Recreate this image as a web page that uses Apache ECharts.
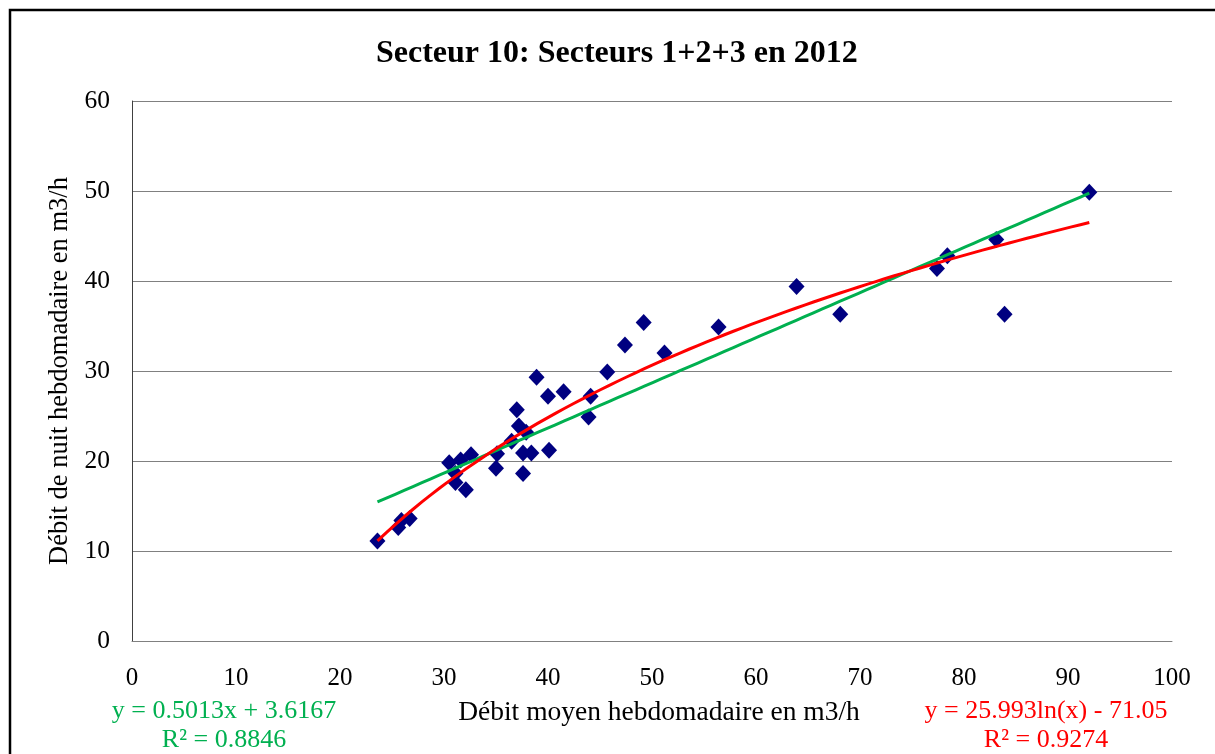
<!DOCTYPE html>
<html>
<head>
<meta charset="utf-8">
<script src="https://cdn.jsdelivr.net/npm/echarts@6/dist/echarts.min.js"></script>
<style>
html,body{margin:0;padding:0;background:#fff;}
#c{width:1215px;height:754px;}
</style>
</head>
<body>
<div id="c"></div>
<script>
// ---- data ----
var titleText = 'Secteur 10: Secteurs 1+2+3 en 2012';
var xAxisName = 'Débit moyen hebdomadaire en m3/h';
var yAxisName = 'Débit de nuit hebdomadaire en m3/h';
var debitMoyen = [23.6, 25.6, 25.9, 26.7, 30.5, 31.1, 31.1, 31.6, 32.6, 32.1, 35.0, 35.1, 36.5, 37.0, 37.2, 37.9, 37.6, 38.4, 37.6, 38.9, 40.0, 40.1, 41.5, 43.9, 44.1, 45.7, 47.4, 49.2, 51.2, 56.4, 63.9, 68.1, 77.4, 78.4, 83.1, 83.9, 92.05];
var debitNuit  = [11.1, 12.6, 13.4, 13.6, 19.8, 18.6, 17.6, 20.1, 20.7, 16.8, 19.2, 20.8, 22.2, 25.7, 23.9, 23.2, 20.9, 20.9, 18.6, 29.3, 27.2, 21.2, 27.7, 24.9, 27.2, 29.9, 32.9, 35.4, 32.0, 34.9, 39.4, 36.3, 41.4, 42.8, 44.6, 36.3, 49.85];
// trendline coefficients as displayed on the chart
var linSlope = 0.5013, linIntercept = 3.6167, linR2 = '0.8846';
var logA = 25.993, logB = -71.05, logR2 = '0.9274';
var linLabel = 'y = 0.5013x + 3.6167';
var logLabel = 'y = 25.993ln(x) - 71.05';

var scatterData = debitMoyen.map(function(x, i){ return [x, debitNuit[i]]; });
var xMinData = Math.min.apply(null, debitMoyen), xMaxData = Math.max.apply(null, debitMoyen);
var linData = [], logData = [];
var steps = 80;
for (var i = 0; i <= steps; i++) {
  var x = xMinData + (xMaxData - xMinData) * i / steps;
  linData.push([x, linSlope * x + linIntercept]);
  logData.push([x, logA * Math.log(x) + logB]);
}

var FONT = 'Liberation Serif';
var chart = echarts.init(document.getElementById('c'), null, {renderer: 'canvas'});
chart.setOption({
  animation: false,
  backgroundColor: '#fff',
  title: {
    text: titleText, left: 371, top: 33,
    textStyle: {fontFamily: FONT, fontWeight: 'bold', fontSize: 32, color: '#000'}
  },
  grid: {left: 132, top: 101, right: 43, bottom: 113, containLabel: false},
  xAxis: {
    type: 'value', min: 0, max: 100, interval: 10,
    name: xAxisName, nameLocation: 'middle', nameGap: 58,
    nameTextStyle: {fontFamily: FONT, fontSize: 27.5, color: '#000', padding: [0, 0, 0, 14]},
    axisLine: {show: true, lineStyle: {color: '#808080', width: 1}},
    axisTick: {show: false},
    splitLine: {show: false},
    axisLabel: {fontFamily: FONT, fontSize: 25, color: '#000', margin: 25}
  },
  yAxis: {
    type: 'value', min: 0, max: 60, interval: 10,
    name: yAxisName, nameLocation: 'middle', nameGap: 52, nameRotate: 90,
    nameTextStyle: {fontFamily: FONT, fontSize: 26.5, color: '#000'},
    axisLine: {show: true, lineStyle: {color: '#404040', width: 1}},
    axisTick: {show: false},
    splitLine: {show: true, lineStyle: {color: '#808080', width: 1}},
    axisLabel: {fontFamily: FONT, fontSize: 25.5, color: '#000', margin: 22}
  },
  series: [
    {
      type: 'scatter', data: scatterData, symbol: 'diamond', symbolSize: [16, 17],
      itemStyle: {color: '#000080', opacity: 1}, z: 2
    },
    {
      type: 'line', data: linData, showSymbol: false, smooth: false,
      lineStyle: {color: '#00B050', width: 3}, z: 3
    },
    {
      type: 'line', data: logData, showSymbol: false, smooth: false,
      lineStyle: {color: '#FF0000', width: 3}, z: 4
    }
  ],
  graphic: [
    {type: 'rect', shape: {x: 10, y: 10, width: 1400, height: 900}, style: {fill: 'none', stroke: '#000', lineWidth: 2.5}, silent: true},
    {type: 'text', x: 224, y: 711, style: {text: linLabel, font: '26px "Liberation Serif"', fill: '#00B050', align: 'center', verticalAlign: 'middle'}},
    {type: 'text', x: 224, y: 740, style: {text: 'R² = ' + linR2, font: '26px "Liberation Serif"', fill: '#00B050', align: 'center', verticalAlign: 'middle'}},
    {type: 'text', x: 1046, y: 711, style: {text: logLabel, font: '26px "Liberation Serif"', fill: '#FF0000', align: 'center', verticalAlign: 'middle'}},
    {type: 'text', x: 1046, y: 740, style: {text: 'R² = ' + logR2, font: '26px "Liberation Serif"', fill: '#FF0000', align: 'center', verticalAlign: 'middle'}}
  ]
});
</script>
</body>
</html>
